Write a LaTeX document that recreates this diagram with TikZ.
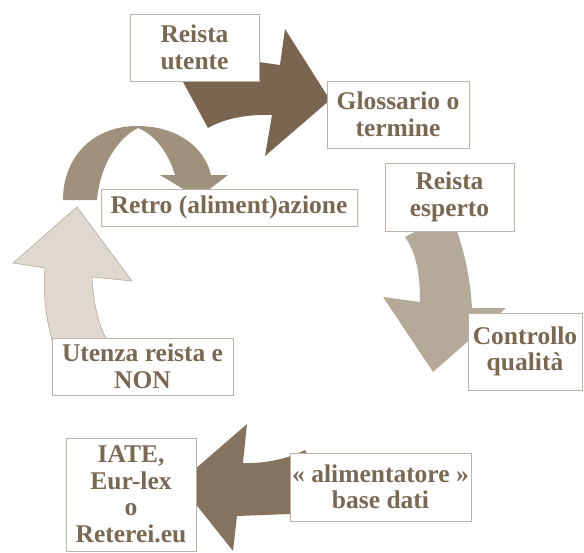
\documentclass[tikz,border=0pt]{standalone}
\usepackage{fontspec}
\setmainfont{Liberation Serif}
\definecolor{txt}{HTML}{7A6852}
\definecolor{edge}{HTML}{BCB2A6}
\definecolor{arA}{HTML}{7A6650}
\definecolor{arB}{HTML}{A0917C}
\definecolor{arC}{HTML}{B5AA9A}
\definecolor{arD}{HTML}{857360}
\definecolor{arE}{HTML}{DED8D1}
\definecolor{arEline}{HTML}{B0A18E}
\begin{document}
\begin{tikzpicture}[x=1pt,y=-1pt,
  box/.style={draw=edge, line width=0.8pt, fill=white, inner sep=0pt, align=center,
    text=txt, font=\fontsize{25.5}{26.5}\selectfont\bfseries},
  arrowE/.style={fill=arE, draw=arEline, line width=0.5pt}]
\useasboundingbox (0,0) rectangle (584,552);

% block arrows
\fill[arA] (182,80) .. controls (205,68) and (235,62) .. (259,62) -- (280,65) -- (285,29)
  -- (330,100) -- (265,156) -- (272,115) .. controls (250,114) and (225,118) .. (208,128) -- cycle;
\fill[arB] (63,200) .. controls (63,155) and (95,126) .. (137,126)
  .. controls (178,126) and (205,148) .. (211,175) -- (228,175) -- (198,198) -- (160,175) -- (175,175)
  .. controls (168,152) and (155,135) .. (138,128)
  .. controls (118,138) and (100,165) .. (97,200) -- cycle;
\fill[arC] (405,237) -- (450,214) .. controls (460,235) and (470,270) .. (472,308) -- (506,308)
  -- (433,372) -- (383,297) -- (420,302) .. controls (420,280) and (418,255) .. (405,237) -- cycle;
\fill[arD] (305,450) -- (330,497) .. controls (315,510) and (300,514) .. (290,514) -- (237,516)
  -- (233,551) -- (179,483) -- (247,424) -- (243,463) .. controls (265,464) and (290,458) .. (305,450) -- cycle;
\filldraw[arrowE] (62,370) .. controls (48,335) and (42,300) .. (45,268) -- (13,263) -- (77,207)
  -- (132,281) -- (92,277) .. controls (93,300) and (98,325) .. (107,340) -- cycle;

% boxes
\node[box, minimum width=129pt, minimum height=67pt] (utente) at (194.5,47.5) {Reista\\utente};
\node[box, minimum width=142pt, minimum height=67pt] (gloss) at (398,114.5) {Glossario o\\termine};
\node[box, minimum width=256pt, minimum height=37pt] (retro) at (229,207.5) {Retro (aliment)azione};
\node[box, minimum width=129pt, minimum height=68pt] (esperto) at (449.5,197) {Reista\\esperto};
\node[box, minimum width=114pt, minimum height=77pt] (controllo) at (525,351.5) {Controllo\\qualità};
\node[box, minimum width=181pt, minimum height=57pt] (utenza) at (142.5,366.5) {Utenza reista e\\NON};
\node[box, minimum width=130pt, minimum height=113pt] (iate) at (131,494.5) {IATE,\\Eur-lex\\o\\Reterei.eu};
\node[box, minimum width=181pt, minimum height=68pt] (alim) at (380.5,487) {« alimentatore »\\base dati};
\end{tikzpicture}
\end{document}
